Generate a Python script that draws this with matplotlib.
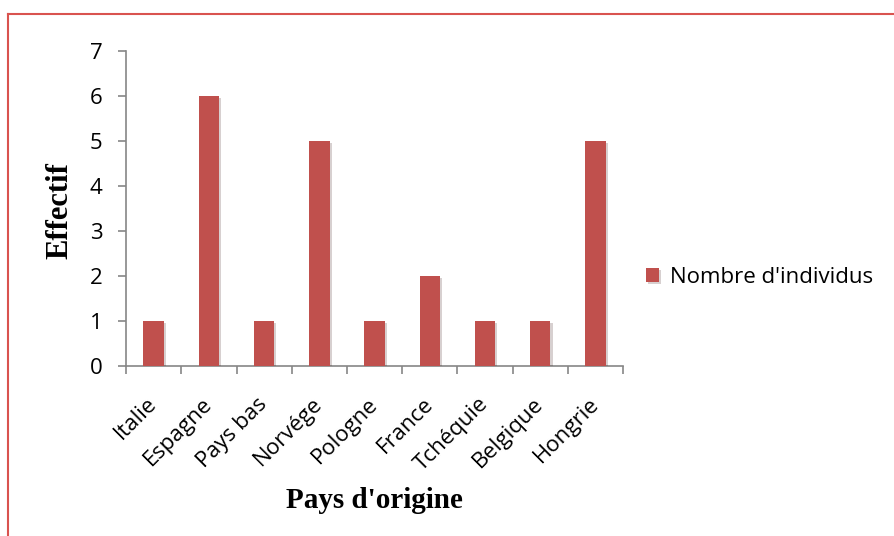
import numpy as np
import matplotlib.pyplot as plt
import matplotlib.patheffects as pe
from matplotlib.lines import Line2D

pays = ["Italie", "Espagne", "Pays bas", "Norvége", "Pologne",
        "France", "Tchéquie", "Belgique", "Hongrie"]
effectif = [1, 6, 1, 5, 1, 2, 1, 1, 5]

rouge = "#c0504d"
gris = "#868686"

fig = plt.figure(figsize=(8.94, 5.36), dpi=100)
ax = fig.add_axes([0.141, 0.317, 0.556, 0.588])

x = np.arange(len(pays))
ax.bar(x, effectif, width=0.37, color=rouge, label="Nombre d'individus",
       path_effects=[pe.SimplePatchShadow(offset=(1.5, -1.5), alpha=0.2),
                     pe.Normal()], zorder=3)

ax.set_xlim(-0.5, len(pays) - 0.5)
ax.set_ylim(0, 7)
ax.set_yticks(range(0, 8))

ax.set_xticks(x)
ax.set_xticklabels(pays, rotation=45, ha="right", va="center",
                   rotation_mode="anchor", fontsize=16, family="Open Sans")
ax.set_xticks(np.arange(-0.5, len(pays)), minor=True)
ax.tick_params(axis="x", which="major", length=0, pad=25)
ax.tick_params(axis="x", which="minor", length=6, color=gris, width=1.2)
ax.tick_params(axis="y", length=6, color=gris, width=1.2, pad=11, labelsize=16)
for lab in ax.get_yticklabels():
    lab.set_family("Open Sans")

for s in ["top", "right"]:
    ax.spines[s].set_visible(False)
for s in ["left", "bottom"]:
    ax.spines[s].set_color(gris)
    ax.spines[s].set_linewidth(1.2)

fig.text(60 / 894, 1 - 211 / 536, "Effectif", rotation=90, ha="center",
         va="center", family="Liberation Serif", fontweight="bold", fontsize=22)
fig.text(374 / 894, 1 - 501 / 536, "Pays d'origine", ha="center",
         va="center", family="Liberation Serif", fontweight="bold", fontsize=21)

leg = fig.legend(loc="center left", bbox_to_anchor=(0.70, 0.483), frameon=False,
                 prop={"family": "Open Sans", "size": 16}, handlelength=0.6,
                 handleheight=0.6, handletextpad=0.5)

# cadre rouge (haut et gauche)
fig.add_artist(Line2D([0.0095, 1.0], [0.974, 0.974], color="#d9534f", lw=1.5,
                      transform=fig.transFigure))
fig.add_artist(Line2D([0.0095, 0.0095], [0.0, 0.974], color="#d9534f", lw=1.5,
                      transform=fig.transFigure))

fig.savefig("out.png", dpi=100)
